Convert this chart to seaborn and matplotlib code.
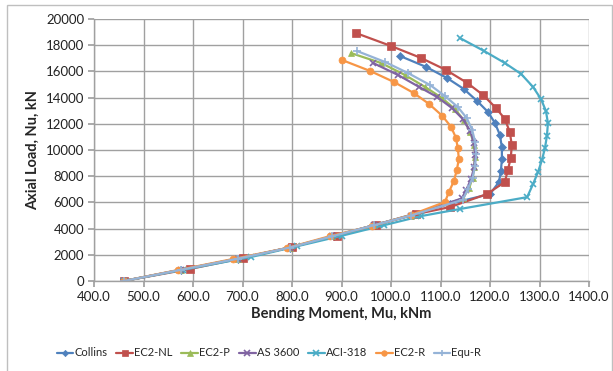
import matplotlib
matplotlib.use("Agg")
import matplotlib.pyplot as plt
import seaborn as sns
import pandas as pd
from matplotlib.patches import Rectangle

# Interaction diagrams: bending moment (kNm) vs axial load (kN)
collins_m = [460, 575, 690, 795, 885, 965, 1045, 1120, 1200, 1218, 1222, 1224, 1224, 1220, 1210, 1196, 1174, 1147, 1113, 1071, 1018]
collins_n = [0, 850, 1700, 2550, 3400, 4250, 5100, 5900, 6640, 7550, 8400, 9300, 10200, 11150, 12060, 12900, 13740, 14660, 15500, 16340, 17180]

ec2nl_m = [460, 594, 700, 800, 890, 970, 1050, 1120, 1194, 1230, 1236, 1242, 1244, 1240, 1230, 1212, 1186, 1154, 1111, 1061, 1000, 929]
ec2nl_n = [0, 920, 1750, 2600, 3450, 4300, 5100, 5650, 6640, 7560, 8470, 9390, 10380, 11370, 12370, 13210, 14200, 15120, 16110, 17020, 17940, 18930]

ec2p_m = [460, 575, 690, 795, 880, 965, 1040, 1145, 1158, 1165, 1168, 1170, 1168, 1160, 1147, 1129, 1103, 1069, 1028, 980, 919]
ec2p_n = [0, 850, 1700, 2550, 3400, 4250, 5000, 6300, 7100, 7900, 8700, 9500, 10400, 11370, 12290, 13130, 13970, 14810, 15730, 16640, 17400]

as3600_m = [460, 575, 690, 795, 880, 965, 1040, 1143, 1152, 1162, 1168, 1170, 1168, 1160, 1145, 1123, 1093, 1057, 1014, 964]
as3600_n = [0, 850, 1700, 2550, 3400, 4250, 5000, 6300, 6950, 7800, 8700, 9600, 10500, 11450, 12370, 13210, 14050, 14810, 15730, 16640]

aci_m = [460, 580, 717, 810, 900, 985, 1060, 1140, 1275, 1287, 1297, 1305, 1311, 1315, 1317, 1313, 1303, 1287, 1263, 1230, 1188, 1139]
aci_n = [0, 850, 1830, 2650, 3450, 4250, 4950, 5500, 6400, 7400, 8320, 9240, 10150, 11070, 12060, 12980, 13890, 14810, 15800, 16640, 17560, 18550]

ec2r_m = [460, 570, 681, 790, 877, 962, 1040, 1109, 1117, 1127, 1133, 1137, 1135, 1131, 1121, 1103, 1077, 1046, 1006, 958, 901]
ec2r_n = [0, 840, 1680, 2520, 3430, 4200, 5040, 6030, 6790, 7630, 8470, 9310, 10150, 10950, 11790, 12630, 13510, 14350, 15190, 16030, 16870]

equr_m = [460, 575, 690, 795, 880, 965, 1040, 1145, 1155, 1165, 1170, 1172, 1170, 1164, 1153, 1135, 1109, 1079, 1034, 988, 931]
equr_n = [0, 850, 1700, 2550, 3400, 4250, 5000, 6200, 7000, 7900, 8800, 9700, 10600, 11530, 12440, 13280, 14120, 14960, 15880, 16720, 17560]

series_names = ["Collins", "EC2-NL", "EC2-P", "AS 3600", "ACI-318", "EC2-R", "Equ-R"]
series_data = [
    (collins_m, collins_n), (ec2nl_m, ec2nl_n), (ec2p_m, ec2p_n),
    (as3600_m, as3600_n), (aci_m, aci_n), (ec2r_m, ec2r_n), (equr_m, equr_n),
]
colors = ["#4F81BD", "#C0504D", "#9BBB59", "#8064A2", "#4BACC6", "#F79646", "#95B3D7"]
markers = ["D", "s", "^", "x", "x", "o", "+"]
msizes = [4, 6, 5, 5, 5, 5, 6]

x_ticks = [400, 500, 600, 700, 800, 900, 1000, 1100, 1200, 1300, 1400]
y_ticks = [0, 2000, 4000, 6000, 8000, 10000, 12000, 14000, 16000, 18000, 20000]

frames = []
for name, (m, n) in zip(series_names, series_data):
    frames.append(pd.DataFrame({"Moment": m, "Load": n, "Series": name, "order": range(len(m))}))
df = pd.concat(frames, ignore_index=True)

sns.set_theme(style="white")
plt.rcParams["font.family"] = ["Lato", "DejaVu Sans"]

fig = plt.figure(figsize=(6.13, 3.71), dpi=100)
ax = fig.add_axes([94 / 613, 90 / 371, 495 / 613, 262 / 371])

for name, col, mk, ms in zip(series_names, colors, markers, msizes):
    sub = df[df["Series"] == name]
    sns.lineplot(data=sub, x="Moment", y="Load", sort=False, estimator=None,
                 color=col, marker=mk, markersize=ms, linewidth=1.6,
                 markeredgecolor=col, markeredgewidth=1.2 if mk in ("x", "+") else 0.5,
                 label=name, ax=ax)

ax.set_xlim(400, 1400)
ax.set_ylim(0, 20000)
ax.set_xticks(x_ticks)
ax.set_yticks(y_ticks)
ax.set_xticklabels([f"{v:.1f}" for v in x_ticks], fontsize=9.5, color="#222222")
ax.set_yticklabels([str(v) for v in y_ticks], fontsize=9.5, color="#222222")
ax.grid(True, color="#a0a0a0", linewidth=1.0)
ax.set_axisbelow(True)
for side in ("top", "right"):
    ax.spines[side].set_visible(False)
for side in ("left", "bottom"):
    ax.spines[side].set_color("#a0a0a0")
    ax.spines[side].set_linewidth(1.0)
ax.tick_params(axis="x", which="both", bottom=True, length=4, color="#a0a0a0", pad=3)
ax.tick_params(axis="y", which="both", left=True, length=4, color="#a0a0a0", pad=3)
ax.set_xlabel("Bending Moment, Mu, kNm", fontsize=10.5, fontweight="bold", labelpad=3)
ax.set_ylabel("Axial Load, Nu, kN", fontsize=10.5, fontweight="bold", labelpad=4)

ax.legend(loc="center", bbox_to_anchor=(269 / 613, 18 / 371), bbox_transform=fig.transFigure,
          ncol=7, frameon=False, fontsize=8, handlelength=1.5, handletextpad=0.1,
          columnspacing=0.8, markerscale=0.8, borderpad=0.2)

fig.patches.append(Rectangle((7 / 613, -0.05), 605 / 613, 1.05 - 5 / 371 + 0.0,
                             transform=fig.transFigure, fill=False,
                             edgecolor="#bfbfbf", linewidth=1.0))

fig.savefig("out.png", dpi=100)
